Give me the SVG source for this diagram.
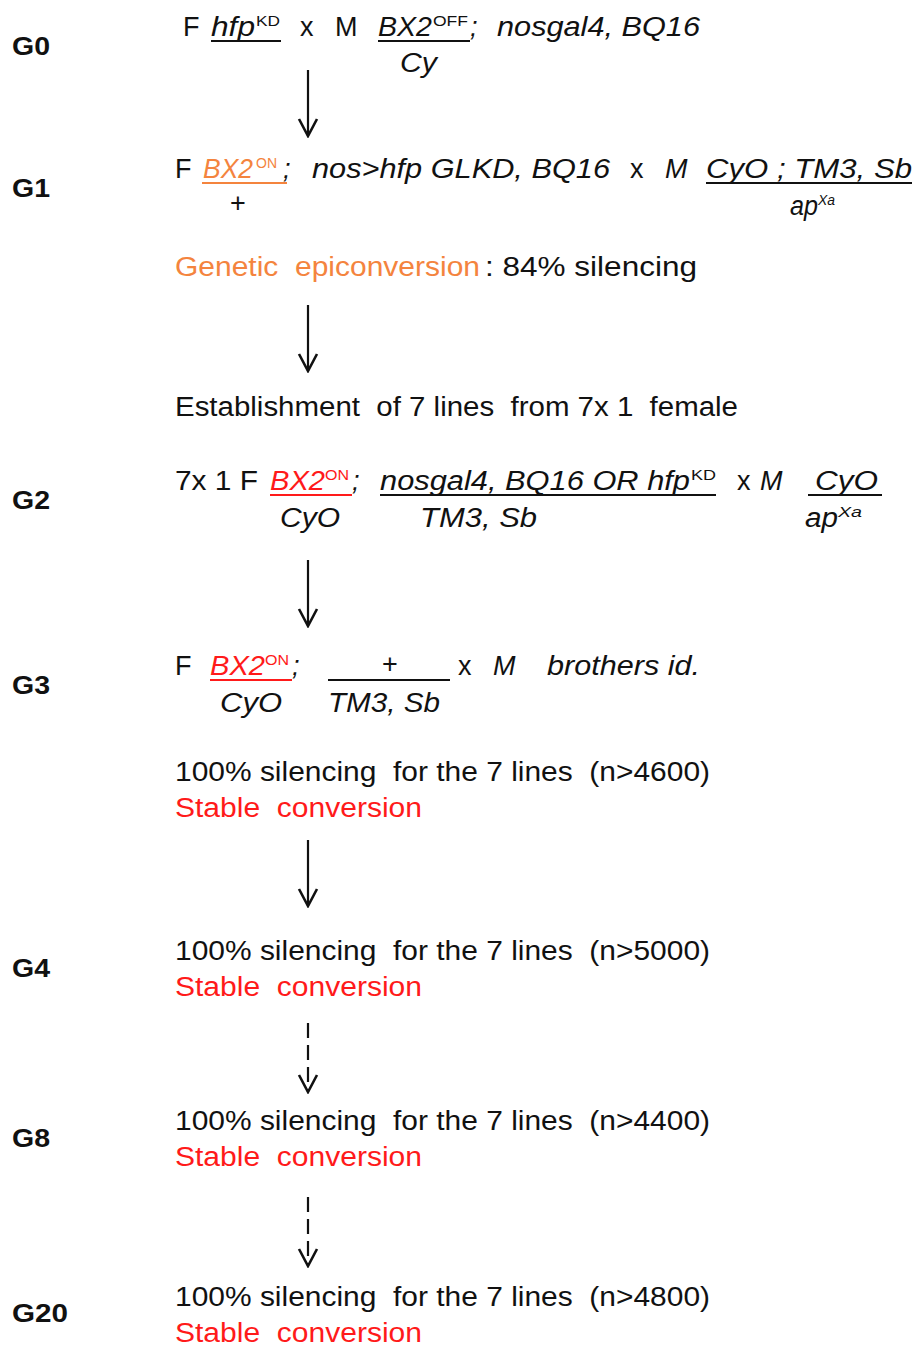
<svg xmlns="http://www.w3.org/2000/svg" width="919" height="1347" viewBox="0 0 919 1347">
<style>
text{font-family:"Liberation Sans",Arial,sans-serif;font-size:27px;fill:#111}
.i{font-style:italic}
.s{font-size:15px}
.lab{font-weight:bold;font-size:26px}
.or{fill:#F4843E}
.rd{fill:#FF1A1A}
.ul{stroke:#111;stroke-width:2.2}
.ulo{stroke:#F4843E;stroke-width:2.2}
.ulr{stroke:#FF1A1A;stroke-width:2.2}
.arr{stroke:#111;stroke-width:2.2;fill:none;marker-end:url(#ah)}
.dash{stroke-dasharray:15 7}
</style>
<defs>
<marker id="ah" viewBox="-20 -12 22 24" refX="0" refY="0" markerWidth="22" markerHeight="24" markerUnits="userSpaceOnUse" orient="auto">
<path d="M-17,-9 L0,0 L-17,9" fill="none" stroke="#111" stroke-width="2.6"/>
</marker>
</defs>
<rect width="919" height="1347" fill="#fff"/>

<g id="G0">
<text class="lab" x="12" y="55" textLength="38" lengthAdjust="spacingAndGlyphs">G0</text>
<text x="183" y="36">F</text>
<text class="i" x="211" y="36" textLength="44" lengthAdjust="spacingAndGlyphs">hfp</text>
<text class="s" x="256" y="26" textLength="24" lengthAdjust="spacingAndGlyphs">KD</text>
<line class="ul" x1="211" y1="41" x2="281" y2="41"/>
<text x="300" y="36">x</text>
<text x="335" y="36">M</text>
<text class="i" x="378" y="36" textLength="54" lengthAdjust="spacingAndGlyphs">BX2</text>
<text class="s" x="433" y="26" textLength="35" lengthAdjust="spacingAndGlyphs">OFF</text>
<text class="i" x="470" y="36">;</text>
<line class="ul" x1="378" y1="41" x2="470" y2="41"/>
<text class="i" x="497" y="36" textLength="203" lengthAdjust="spacingAndGlyphs">nosgal4, BQ16</text>
<text class="i" x="400" y="72" textLength="37" lengthAdjust="spacingAndGlyphs">Cy</text>
</g>

<g id="G1">
<text class="lab" x="12" y="197" textLength="38" lengthAdjust="spacingAndGlyphs">G1</text>
<text x="175" y="178">F</text>
<text class="i or" x="203" y="178" textLength="50" lengthAdjust="spacingAndGlyphs">BX2</text>
<text class="s or" x="256" y="168" textLength="21" lengthAdjust="spacingAndGlyphs">ON</text>
<line class="ulo" x1="202" y1="183" x2="287" y2="183"/>
<text class="i" x="283" y="178">;</text>
<text class="i" x="312" y="178" textLength="298" lengthAdjust="spacingAndGlyphs">nos&gt;hfp GLKD, BQ16</text>
<text x="630" y="178">x</text>
<text class="i" x="665" y="178">M</text>
<text class="i" x="706" y="178" textLength="206" lengthAdjust="spacingAndGlyphs">CyO ; TM3, Sb</text>
<line class="ul" x1="706" y1="183" x2="912" y2="183"/>
<text x="230" y="212">+</text>
<text class="i" x="790" y="215" textLength="28" lengthAdjust="spacingAndGlyphs">ap</text>
<text class="s i" x="818" y="205" textLength="17" lengthAdjust="spacingAndGlyphs">Xa</text>
<text class="or" x="175" y="276" textLength="305" lengthAdjust="spacingAndGlyphs" xml:space="preserve">Genetic  epiconversion</text>
<text x="485" y="276" textLength="212" lengthAdjust="spacingAndGlyphs">: 84% silencing</text>
<text x="175" y="416" textLength="563" lengthAdjust="spacingAndGlyphs" xml:space="preserve">Establishment  of 7 lines  from 7x 1  female</text>
</g>

<g id="G2">
<text class="lab" x="12" y="509" textLength="38" lengthAdjust="spacingAndGlyphs">G2</text>
<text x="175" y="490" textLength="83" lengthAdjust="spacingAndGlyphs">7x 1 F</text>
<text class="i rd" x="270" y="490" textLength="55" lengthAdjust="spacingAndGlyphs">BX2</text>
<text class="s rd" x="325" y="480" textLength="24" lengthAdjust="spacingAndGlyphs">ON</text>
<line class="ulr" x1="270" y1="495" x2="352" y2="495"/>
<text class="i" x="352" y="490">;</text>
<text class="i" x="380" y="490" textLength="310" lengthAdjust="spacingAndGlyphs">nosgal4, BQ16 OR hfp</text>
<text class="s" x="691" y="480" textLength="25" lengthAdjust="spacingAndGlyphs">KD</text>
<line class="ul" x1="380" y1="495" x2="716" y2="495"/>
<text x="737" y="490">x</text>
<text class="i" x="760" y="490">M</text>
<text class="i" x="815" y="490" textLength="63" lengthAdjust="spacingAndGlyphs">CyO</text>
<line class="ul" x1="808" y1="495" x2="882" y2="495"/>
<text class="i" x="280" y="527" textLength="60" lengthAdjust="spacingAndGlyphs">CyO</text>
<text class="i" x="420" y="527" textLength="117" lengthAdjust="spacingAndGlyphs">TM3, Sb</text>
<text class="i" x="805" y="527" textLength="33" lengthAdjust="spacingAndGlyphs">ap</text>
<text class="s i" x="838" y="517" textLength="24" lengthAdjust="spacingAndGlyphs">Xa</text>
</g>

<g id="G3">
<text class="lab" x="12" y="694" textLength="38" lengthAdjust="spacingAndGlyphs">G3</text>
<text x="175" y="675">F</text>
<text class="i rd" x="210" y="675" textLength="55" lengthAdjust="spacingAndGlyphs">BX2</text>
<text class="s rd" x="265" y="665" textLength="24" lengthAdjust="spacingAndGlyphs">ON</text>
<line class="ulr" x1="210" y1="680" x2="292" y2="680"/>
<text class="i" x="292" y="675">;</text>
<text x="382" y="673">+</text>
<line class="ul" x1="328" y1="680" x2="450" y2="680"/>
<text x="458" y="675">x</text>
<text class="i" x="493" y="675">M</text>
<text class="i" x="547" y="675" textLength="153" lengthAdjust="spacingAndGlyphs">brothers id.</text>
<text class="i" x="220" y="712" textLength="62" lengthAdjust="spacingAndGlyphs">CyO</text>
<text class="i" x="328" y="712" textLength="112" lengthAdjust="spacingAndGlyphs">TM3, Sb</text>
<text x="175" y="781" textLength="535" lengthAdjust="spacingAndGlyphs" xml:space="preserve">100% silencing  for the 7 lines  (n&gt;4600)</text>
<text class="rd" x="175" y="817" textLength="247" lengthAdjust="spacingAndGlyphs" xml:space="preserve">Stable  conversion</text>
</g>

<g id="G4">
<text class="lab" x="12" y="977" textLength="38" lengthAdjust="spacingAndGlyphs">G4</text>
<text x="175" y="960" textLength="535" lengthAdjust="spacingAndGlyphs" xml:space="preserve">100% silencing  for the 7 lines  (n&gt;5000)</text>
<text class="rd" x="175" y="996" textLength="247" lengthAdjust="spacingAndGlyphs" xml:space="preserve">Stable  conversion</text>
</g>

<g id="G8">
<text class="lab" x="12" y="1147" textLength="38" lengthAdjust="spacingAndGlyphs">G8</text>
<text x="175" y="1130" textLength="535" lengthAdjust="spacingAndGlyphs" xml:space="preserve">100% silencing  for the 7 lines  (n&gt;4400)</text>
<text class="rd" x="175" y="1166" textLength="247" lengthAdjust="spacingAndGlyphs" xml:space="preserve">Stable  conversion</text>
</g>

<g id="G20">
<text class="lab" x="12" y="1322" textLength="56" lengthAdjust="spacingAndGlyphs">G20</text>
<text x="175" y="1306" textLength="535" lengthAdjust="spacingAndGlyphs" xml:space="preserve">100% silencing  for the 7 lines  (n&gt;4800)</text>
<text class="rd" x="175" y="1342" textLength="247" lengthAdjust="spacingAndGlyphs" xml:space="preserve">Stable  conversion</text>
</g>

<g id="connectors">
<line class="arr" x1="308" y1="70" x2="308" y2="136"/>
<line class="arr" x1="308" y1="305" x2="308" y2="371"/>
<line class="arr" x1="308" y1="560" x2="308" y2="626"/>
<line class="arr" x1="308" y1="840" x2="308" y2="906"/>
<line class="arr dash" x1="308" y1="1023" x2="308" y2="1092"/>
<line class="arr dash" x1="308" y1="1197" x2="308" y2="1266"/>
</g>
</svg>
